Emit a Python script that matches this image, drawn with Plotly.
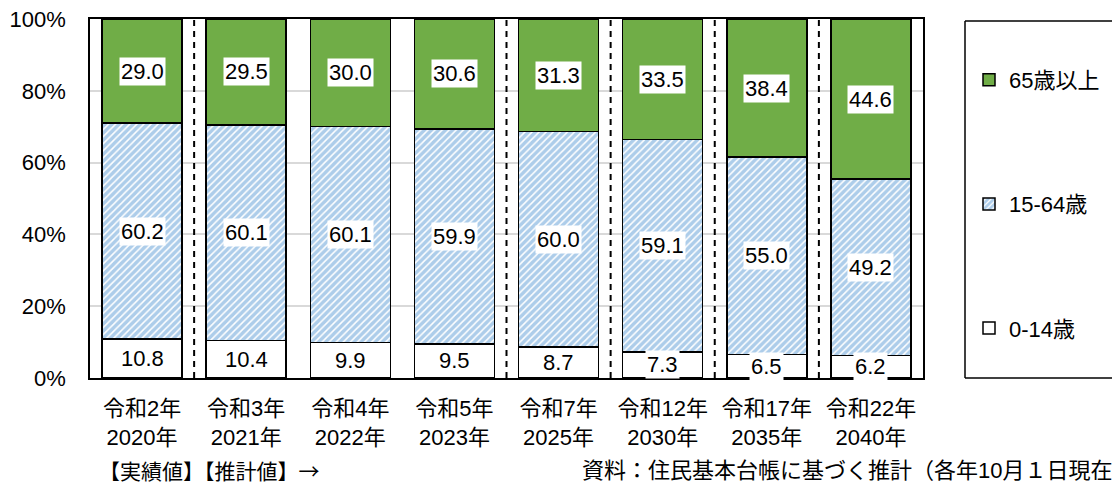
import plotly.graph_objects as go

categories = ["令和2年<br>2020年", "令和3年<br>2021年", "令和4年<br>2022年", "令和5年<br>2023年",
              "令和7年<br>2025年", "令和12年<br>2030年", "令和17年<br>2035年", "令和22年<br>2040年"]
age_0_14 = [10.8, 10.4, 9.9, 9.5, 8.7, 7.3, 6.5, 6.2]
age_15_64 = [60.2, 60.1, 60.1, 59.9, 60.0, 59.1, 55.0, 49.2]
age_65_plus = [29.0, 29.5, 30.0, 30.6, 31.3, 33.5, 38.4, 44.6]
y_ticks = [0, 20, 40, 60, 80, 100]
y_tick_labels = ["0%", "20%", "40%", "60%", "80%", "100%"]
# dashed dividers drawn after these category indices
divider_after = [0, 3, 4, 5, 6]

FONT = "Arial, 'Liberation Sans', 'Noto Sans CJK JP', sans-serif"
CJK = "'Noto Sans CJK JP', sans-serif"
FS = 22
GREEN = "#70AD47"
BLUE = "#5B9BD5"

W, H = 1112, 490
ML, MR, MT, MB = 90, 189, 19, 112
PW = W - ML - MR
PH = H - MT - MB

fig = go.Figure()
line = dict(color="black", width=1.5)
fig.add_trace(go.Bar(x=categories, y=age_0_14, name="0-14歳", legendgroup="a", legendrank=3,
                     marker=dict(color="white", line=line)))
fig.add_trace(go.Bar(x=categories, y=age_15_64, name="15-64歳", legendgroup="b", legendrank=2,
                     marker=dict(color="white", line=line,
                                 pattern=dict(shape="/", fgcolor=BLUE, bgcolor="white",
                                              size=5, solidity=0.7, fillmode="overlay"))))
fig.add_trace(go.Bar(x=categories, y=age_65_plus, name="65歳以上", legendgroup="c", legendrank=1,
                     marker=dict(color=GREEN, line=line)))

annotations = []
for i, c in enumerate(categories):
    base = 0
    for series in (age_0_14, age_15_64, age_65_plus):
        v = series[i]
        annotations.append(dict(x=c, y=base + v / 2, xref="x", yref="y", text=f"{v:.1f}",
                                showarrow=False, bgcolor="white", borderpad=1,
                                font=dict(family=FONT, size=FS, color="black")))
        base += v

def px_x(p):
    return (p - ML) / PW

def px_y(p):
    return (H - MB - p) / PH

annotations.append(dict(x=px_x(97), y=px_y(470), xref="paper", yref="paper", xanchor="left",
                        yanchor="middle", text="【実績値】【推計値】→", showarrow=False,
                        font=dict(family=CJK, size=21, color="black")))
annotations.append(dict(x=px_x(580), y=px_y(470), xref="paper", yref="paper", xanchor="left",
                        yanchor="middle", text="資料：住民基本台帳に基づく推計（各年10月１日現在",
                        showarrow=False, font=dict(family=FONT, size=FS, color="black")))

shapes = []
for i in divider_after:
    shapes.append(dict(type="line", xref="x", yref="paper", x0=i + 0.5, x1=i + 0.5, y0=0, y1=1,
                       line=dict(color="black", width=2, dash="6px,5px"), layer="above"))
# legend frame (right side runs off the page in the reference)
box_l, box_r, box_t, box_b = px_x(965), px_x(1125), px_y(21), px_y(378)
frame = dict(color="black", width=1.5)
shapes.append(dict(type="line", xref="paper", yref="paper", x0=box_l, x1=box_l, y0=box_b, y1=box_t, line=frame))
shapes.append(dict(type="line", xref="paper", yref="paper", x0=box_l, x1=box_r, y0=box_t, y1=box_t, line=frame))
shapes.append(dict(type="line", xref="paper", yref="paper", x0=box_l, x1=box_r, y0=box_b, y1=box_b, line=frame))

fig.update_layout(
    width=W, height=H,
    margin=dict(l=ML, r=MR, t=MT, b=MB, autoexpand=False),
    barmode="stack", bargap=0.232,
    plot_bgcolor="white", paper_bgcolor="white",
    font=dict(family=FONT, size=FS, color="black"),
    showlegend=True,
    legend=dict(x=px_x(969), y=px_y(59), xanchor="left", yanchor="top",
                traceorder="grouped", tracegroupgap=92.5, bgcolor="rgba(0,0,0,0)",
                font=dict(family=FONT, size=FS, color="black")),
    annotations=annotations,
    shapes=shapes,
)
fig.update_xaxes(showline=True, linecolor="black", linewidth=1.5, mirror=True, ticks="",
                 tickfont=dict(family=FONT, size=FS), ticklabelstandoff=10, automargin=False)
fig.update_yaxes(range=[0, 100], tickvals=y_ticks, ticktext=y_tick_labels, showgrid=True,
                 gridcolor="#D9D9D9", gridwidth=1.5, showline=True, linecolor="black",
                 linewidth=1.5, mirror=True, ticks="", zeroline=False, automargin=False,
                 tickfont=dict(family=FONT, size=FS), ticklabelstandoff=18)

fig.write_html("out.html")
